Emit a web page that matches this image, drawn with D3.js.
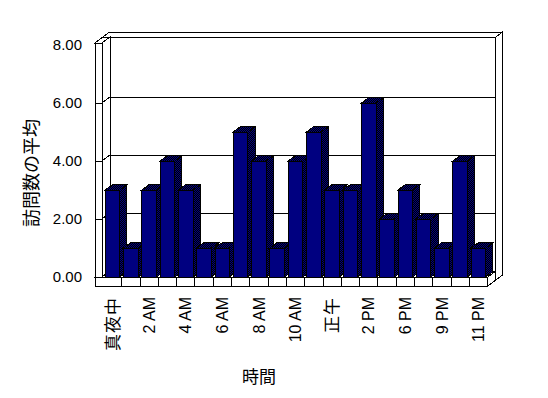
<!DOCTYPE html>
<html lang="ja">
<head>
<meta charset="UTF-8">
<title>訪問数の平均</title>
<script src="https://cdnjs.cloudflare.com/ajax/libs/d3/7.8.5/d3.min.js"></script>
<style>
    html, body { margin:0; padding:0; background:#fff; }
    svg { display:block; }
    text { -webkit-font-smoothing: antialiased; }
</style>
</head>
<body>
<svg id="chart" width="548" height="398"></svg>
<script>
    const categories = ["真夜中", "1 AM", "2 AM", "3 AM", "4 AM", "5 AM", "6 AM", "7 AM", "8 AM", "9 AM", "10 AM", "11 AM",
        "正午", "1 PM", "2 PM", "3 PM", "6 PM", "7 PM", "9 PM", "10 PM", "11 PM"];
    const values = [3, 1, 3, 4, 3, 1, 1, 5, 4, 1, 4, 5, 3, 3, 6, 2, 3, 2, 1, 4, 1];
    const tickLabels = ["真夜中", "2 AM", "4 AM", "6 AM", "8 AM", "10 AM", "正午", "2 PM", "6 PM", "9 PM", "11 PM"];
    const yTicks = [0, 2, 4, 6, 8];

    const FONT = '"Liberation Sans", Arial, sans-serif';
    const JFONT = '"Noto Sans CJK JP", "Noto Sans CJK SC", sans-serif';
    const isCJK = s => /[^\x00-\x7f]/.test(s);

    // oblique depth: one unit of depth moves DX right and DY up
    const DX = 8, DY = 6, WALL = 0.8, BAR_DEPTH = 0.88;
    const wallLeft = 95, wallInner = 102, plotRight = 487.7, floorBottom = 286, wallTop = 43;

    const x = d3.scaleBand().domain(categories).range([103.4, plotRight]).paddingInner(0.2).paddingOuter(0.1);
    const y = d3.scaleLinear().domain([0, 8]).range([277, 45]);

    const svg = d3.select("#chart");
    const defs = svg.append("defs");
    const pat = defs.append("pattern").attr("id", "dither")
        .attr("width", 2).attr("height", 2).attr("patternUnits", "userSpaceOnUse");
    pat.append("rect").attr("width", 2).attr("height", 2).attr("fill", "#000");
    pat.append("rect").attr("width", 1).attr("height", 1).attr("fill", "#000080");
    pat.append("rect").attr("x", 1).attr("y", 1).attr("width", 1).attr("height", 1).attr("fill", "#000080");

    function pt(px, py, z) { return [px + z * DX, py - z * DY]; }
    function poly(ps) { return ps.map(p => p.join(",")).join(" "); }

    // front, top and right faces of a box
    function box(g, x0, x1, yT, yB, z0, z1, front, side) {
        const faces = [
            [pt(x0, yT, z0), pt(x1, yT, z0), pt(x1, yB, z0), pt(x0, yB, z0)],
            [pt(x0, yT, z0), pt(x0, yT, z1), pt(x1, yT, z1), pt(x1, yT, z0)],
            [pt(x1, yT, z0), pt(x1, yT, z1), pt(x1, yB, z1), pt(x1, yB, z0)]
        ];
        faces.forEach((f, i) => {
            g.append("polygon")
                .attr("points", poly(f))
                .attr("fill", i == 0 ? front : side)
                .attr("stroke", "#000")
                .attr("stroke-width", 1)
                .attr("shape-rendering", "crispEdges");
        });
    }

    const g = svg.append("g");
    const grid = [2, 4, 6];

    // back wall
    box(g, wallLeft, plotRight, wallTop, floorBottom, 1, 1 + WALL, "#fff", "#fff");
    grid.forEach(v => {
        g.append("polyline")
            .attr("points", poly([pt(wallInner, y(v), 1), pt(plotRight, y(v), 1)]))
            .attr("fill", "none").attr("stroke", "#000").attr("shape-rendering", "crispEdges");
    });

    // floor
    box(g, wallLeft, plotRight, y(0), floorBottom, 0, 1, "#fff", "#fff");

    // left wall
    box(g, wallLeft, wallInner, wallTop, y(0), 0, 1, "#fff", "#fff");
    grid.forEach(v => {
        g.append("polyline")
            .attr("points", poly([[wallLeft, y(v)], [wallInner, y(v)], pt(wallInner, y(v), 1)]))
            .attr("fill", "none").attr("stroke", "#000").attr("shape-rendering", "crispEdges");
    });

    // category dividers on floor front
    const x0 = x.range()[0];
    for (let i = 1; i < categories.length; i++) {
        const xx = x0 + i * x.step();
        g.append("line")
            .attr("x1", xx).attr("x2", xx).attr("y1", y(0)).attr("y2", floorBottom)
            .attr("stroke", "#000").attr("shape-rendering", "crispEdges");
    }

    // bars
    categories.forEach((c, i) => {
        const bx = x(c);
        box(g, bx, bx + x.bandwidth(), y(values[i]), y(0), 0, BAR_DEPTH, "#000080", "url(#dither)");
    });

    // y axis labels
    const yAxis = d3.axisLeft(y).tickValues(yTicks).tickFormat(d3.format(".2f")).tickSize(0).tickPadding(0);
    svg.append("g")
        .attr("transform", "translate(82,0)")
        .call(yAxis)
        .call(a => a.select(".domain").remove())
        .attr("font-size", 15)
        .attr("font-family", FONT)
        .selectAll("text").attr("fill", "#000");

    // x axis labels
    const xAxis = d3.axisBottom(x).tickValues(tickLabels).tickSize(0).tickPadding(0);
    const xg = svg.append("g")
        .attr("transform", "translate(0,297)")
        .call(xAxis)
        .call(a => a.select(".domain").remove())
        .attr("font-size", 16)
        .attr("font-family", FONT);
    xg.selectAll(".tick").attr("opacity", 1);
    xg.selectAll("text")
        .attr("fill", "#000")
        .style("fill", "#000")
        .attr("font-family", d => isCJK(d) ? JFONT : FONT)
        .attr("font-size", d => isCJK(d) ? 17 : 16)
        .attr("transform", "rotate(-90)")
        .attr("x", 0)
        .attr("y", 0)
        .attr("dy", "0.35em")
        .attr("text-anchor", "end")
        .attr("letter-spacing", d => isCJK(d) ? 1 : 0);

    // titles
    svg.append("text")
        .attr("transform", "translate(30,173) rotate(-90)")
        .attr("text-anchor", "middle")
        .attr("dominant-baseline", "central")
        .attr("font-family", JFONT)
        .attr("font-size", 18)
        .attr("fill", "#000")
        .text("訪問数の平均");

    svg.append("text")
        .attr("x", 259).attr("y", 375)
        .attr("text-anchor", "middle")
        .attr("dominant-baseline", "central")
        .attr("font-family", JFONT)
        .attr("font-size", 17)
        .attr("fill", "#000")
        .text("時間");
</script>
</body>
</html>
